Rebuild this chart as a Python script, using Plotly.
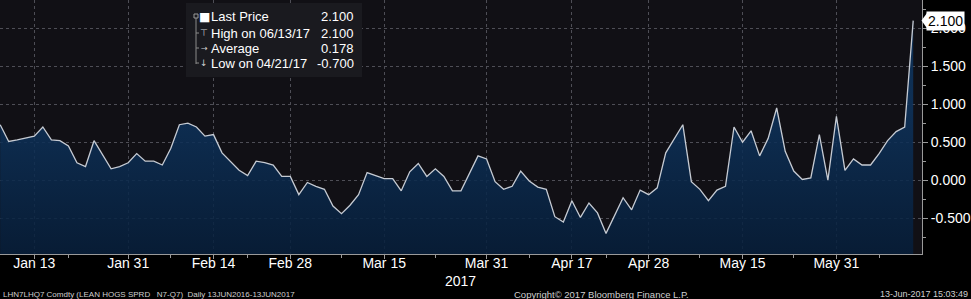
import plotly.graph_objects as go
import pandas as pd

# ---------------- data ----------------
holidays = ["2017-01-16", "2017-02-20", "2017-04-14", "2017-05-29"]
dates = [d.strftime("%Y-%m-%d") for d in pd.bdate_range("2017-01-09", "2017-06-13")
         if d.strftime("%Y-%m-%d") not in holidays]

values = [
    0.73, 0.51, 0.53, 0.56, 0.58, 0.70, 0.53, 0.52, 0.45, 0.23,
    0.18, 0.52, 0.34, 0.15, 0.18, 0.23, 0.35, 0.25, 0.25, 0.20,
    0.42, 0.73, 0.75, 0.70, 0.58, 0.60, 0.36, 0.24, 0.13, 0.06,
    0.25, 0.23, 0.20, 0.05, 0.05, -0.19, -0.03, -0.08, -0.12, -0.34,
    -0.44, -0.33, -0.19, 0.10, 0.06, 0.02, 0.02, -0.14, 0.11, 0.22,
    0.05, 0.15, 0.05, -0.14, -0.14, 0.09, 0.32, 0.28, -0.02, -0.12,
    -0.08, 0.12, -0.01, -0.09, -0.12, -0.48, -0.55, -0.27, -0.49, -0.30,
    -0.43, -0.70, -0.47, -0.23, -0.39, -0.13, -0.19, -0.10, 0.36, 0.54,
    0.73, -0.02, -0.12, -0.27, -0.13, -0.08, 0.70, 0.50, 0.65, 0.32,
    0.55, 0.95, 0.38, 0.12, 0.01, 0.03, 0.60, 0.00, 0.84, 0.13,
    0.28, 0.20, 0.20, 0.35, 0.52, 0.64, 0.70, 2.10,
]

tick_dates = ["2017-01-13", "2017-01-31", "2017-02-14", "2017-02-28", "2017-03-15",
              "2017-03-31", "2017-04-17", "2017-04-28", "2017-05-15", "2017-05-31"]
tick_labels = ["Jan 13", "Jan 31", "Feb 14", "Feb 28", "Mar 15",
               "Mar 31", "Apr 17", "Apr 28", "May 15", "May 31"]
minor_dates = ["2017-01-20", "2017-02-07", "2017-02-21", "2017-03-08", "2017-03-23",
               "2017-04-07", "2017-04-21", "2017-05-08", "2017-05-23", "2017-06-07"]
y_ticks = [-0.5, 0.0, 0.5, 1.0, 1.5, 2.0]
y_range = [-0.971, 2.371]

stats_labels = ["Last Price", "High on 06/13/17", "Average", "Low on 04/21/17"]
stats_values = ["2.100", "2.100", "0.178", "-0.700"]
year_label = "2017"
footer_left = "LHN7LHQ7 Comdty (LEAN HOGS SPRD\u00a0\u00a0\u00a0N7-Q7)\u00a0 Daily 13JUN2016-13JUN2017"
footer_mid = "Copyright\u00a9 2017 Bloomberg Finance L.P."
footer_right = "13-Jun-2017 15:03:49"

# ---------------- figure ----------------
idx = list(range(len(dates)))
tick_idx = [dates.index(d) for d in tick_dates]
minor_idx = [dates.index(d) for d in minor_dates]

W, H = 971, 299
ML, MR, MT, MB = 0, 49, 0, 45
PW, PH = W - ML - MR, H - MT - MB


def px(x):
    return (x - ML) / PW


def py(y):
    return 1 - (y - MT) / PH


FONT = "Liberation Sans, Arial, sans-serif"

fig = go.Figure()
fig.add_trace(go.Scatter(x=idx, y=[y_range[0]] * len(idx), mode="lines",
                         line=dict(width=0, color="rgba(0,0,0,0)"),
                         hoverinfo="skip", showlegend=False))
fig.add_trace(go.Scatter(
    x=idx, y=values, mode="lines", customdata=dates,
    hovertemplate="%{customdata}: %{y:.3f}<extra></extra>",
    line=dict(color="#c6cbd3", width=1.3),
    fill="tonexty",
    fillgradient=dict(type="vertical", start=y_range[0], stop=1.0,
                      colorscale=[[0, "rgba(6,30,58,0.86)"], [1, "rgba(14,52,94,0.86)"]]),
    showlegend=False))

axis_col = "#9a9a9a"
grid_col = "#4e4e56"

fig.update_layout(
    width=W, height=H, autosize=False,
    margin=dict(l=ML, r=MR, t=MT, b=MB, pad=0),
    paper_bgcolor="#000000", plot_bgcolor="#111015",
    font=dict(family=FONT, color="#ffffff", size=14),
    showlegend=False,
    xaxis=dict(
        range=[-0.02, 108.03], tickmode="array", tickvals=tick_idx, ticktext=tick_labels,
        ticks="outside", ticklen=4, tickcolor=axis_col, showline=True, linecolor=axis_col,
        linewidth=1, showgrid=True, gridcolor=grid_col, griddash="dot", gridwidth=1,
        zeroline=False, tickfont=dict(size=14, color="#ffffff"), ticklabelstandoff=-8,
        minor=dict(tickmode="array", tickvals=minor_idx, ticks="outside", ticklen=3,
                   tickcolor=axis_col, showgrid=False),
        fixedrange=True),
    yaxis=dict(
        side="right", range=y_range, tickmode="array", tickvals=y_ticks,
        ticktext=[f"{v:.3f}" for v in y_ticks],
        ticks="outside", ticklen=5, tickcolor=axis_col, showline=True, linecolor=axis_col,
        linewidth=1, showgrid=True, gridcolor=grid_col, griddash="dot", gridwidth=1,
        zeroline=False, tickfont=dict(size=14, color="#ffffff"),
        minor=dict(tickmode="linear", tick0=0, dtick=0.25, ticks="outside", ticklen=3,
                   tickcolor=axis_col, showgrid=False),
        fixedrange=True),
)

shapes = []
annotations = []

# stats box
shapes.append(dict(type="rect", xref="paper", yref="paper",
                   x0=px(186), x1=px(362), y0=py(77), y1=py(3),
                   fillcolor="#1a1a1f", line=dict(width=0), layer="above"))
row_y = [17, 33, 48, 63]
# bracket
shapes.append(dict(type="line", xref="paper", yref="paper", x0=px(196), x1=px(196),
                   y0=py(17), y1=py(64), line=dict(color="#8a8a8a", width=1), layer="above"))
shapes.append(dict(type="rect", xref="paper", yref="paper", x0=px(194), x1=px(198),
                   y0=py(18), y1=py(14), fillcolor="#1a1a1f",
                   line=dict(color="#9a9a9a", width=1), layer="above"))
for ry in row_y[1:]:
    shapes.append(dict(type="line", xref="paper", yref="paper", x0=px(196), x1=px(199),
                       y0=py(ry), y1=py(ry), line=dict(color="#8a8a8a", width=1), layer="above"))
icons = [("\u25a0", 12, "#ffffff"), ("\u22a4", 9, "#cfcfcf"),
         ("\u2192", 8, "#cfcfcf"), ("\u2193", 9, "#cfcfcf")]
for (ic, sz, col), ry in zip(icons, row_y):
    annotations.append(dict(xref="paper", yref="paper", x=px(204), y=py(ry), text=ic,
                            showarrow=False, xanchor="center", yanchor="middle",
                            font=dict(size=sz, color=col, family="DejaVu Sans")))
for lab, val, ry in zip(stats_labels, stats_values, row_y):
    annotations.append(dict(xref="paper", yref="paper", x=px(209), y=py(ry), text=lab,
                            showarrow=False, xanchor="left", yanchor="middle",
                            font=dict(size=13, color="#ffffff")))
    annotations.append(dict(xref="paper", yref="paper", x=px(356), y=py(ry), text=val,
                            showarrow=False, xanchor="right", yanchor="middle",
                            font=dict(size=13, color="#ffffff")))

# last price tag
last_price = values[-1]
shapes.append(dict(type="path", xref="paper", yref="y",
                   path=f"M {px(921.5)} {last_price} L {px(927)} {last_price + 0.1} "
                        f"L {px(927)} {last_price - 0.1} Z",
                   fillcolor="#ffffff", line=dict(width=0), layer="above"))
annotations.append(dict(xref="paper", yref="y", x=px(926), y=last_price,
                        text=f"{last_price:.3f}", showarrow=False, xanchor="left",
                        yanchor="middle", bgcolor="#ffffff", borderpad=1,
                        font=dict(size=14, color="#000000")))

# year label and footer
annotations.append(dict(xref="paper", yref="paper", x=px(460), y=py(281), text=year_label,
                        showarrow=False, xanchor="center", yanchor="middle",
                        font=dict(size=14, color="#ffffff")))
annotations.append(dict(xref="paper", yref="paper", x=px(1), y=py(294), text=footer_left,
                        showarrow=False, xanchor="left", yanchor="middle",
                        font=dict(size=8, color="#cfcfcf")))
annotations.append(dict(xref="paper", yref="paper", x=px(512), y=py(294), text=footer_mid,
                        showarrow=False, xanchor="left", yanchor="middle",
                        font=dict(size=9.5, color="#cfcfcf")))
annotations.append(dict(xref="paper", yref="paper", x=px(970), y=py(294), text=footer_right,
                        showarrow=False, xanchor="right", yanchor="middle",
                        font=dict(size=9, color="#cfcfcf")))

fig.update_layout(shapes=shapes, annotations=annotations)
fig.write_html("out.html", config={"displayModeBar": False})
